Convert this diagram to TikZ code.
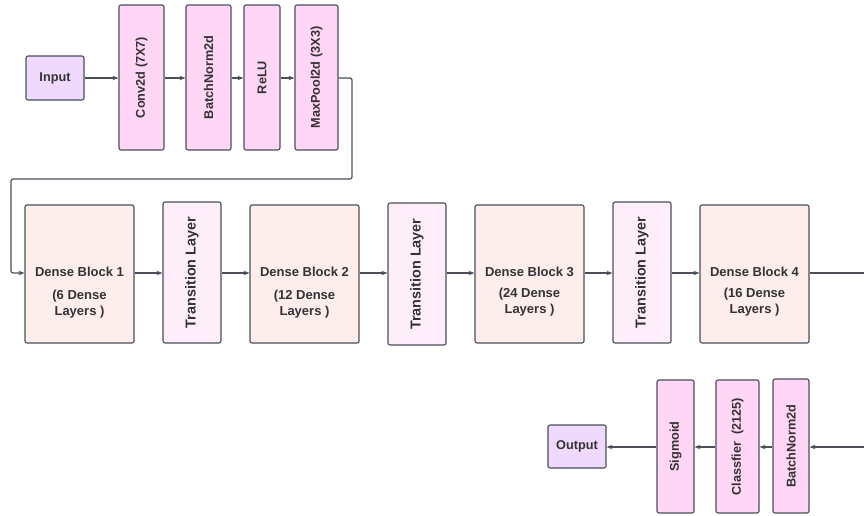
\documentclass[tikz,border=0pt]{standalone}
\usepackage{fontspec}
\setmainfont{Liberation Sans}
\usetikzlibrary{arrows.meta,calc}
\definecolor{edge}{HTML}{4A4F5A}
\definecolor{pinkbox}{HTML}{FFD6F5}
\definecolor{dbfill}{HTML}{FDEEEC}
\definecolor{tlfill}{HTML}{FDEEF9}
\definecolor{iofill}{HTML}{EFD9FC}
\definecolor{txt}{HTML}{333333}
\tikzset{
  x=1pt, y=-1pt,
  box/.style={draw=edge, line width=1.1pt, rounded corners=2pt, inner sep=0pt, text=txt, font=\bfseries\fontsize{12.7}{14}\selectfont},
  vbox/.style={box, fill=pinkbox},
  io/.style={box, fill=iofill, font=\bfseries\fontsize{12.7}{14}\selectfont},
  db/.style={box, fill=dbfill, minimum width=109pt, minimum height=138pt},
  tl/.style={box, fill=tlfill, minimum width=58pt, font=\bfseries\fontsize{14.4}{16}\selectfont},
  dbt/.style={inner sep=0pt, text=txt, align=center, font=\bfseries\fontsize{13}{16}\selectfont},
  conn/.style={draw=edge, line width=1.2pt, -{Stealth[length=6pt,width=4.5pt]}},
  plain/.style={draw=edge, line width=1.2pt},
}
\newcommand{\rt}[1]{\rotatebox{90}{#1}}
\begin{document}
\begin{tikzpicture}
\useasboundingbox (0,0) rectangle (864,515);
% top row
\node[io, minimum width=58pt, minimum height=44pt] (in) at (55,78) {Input};
\node[vbox, minimum width=45pt, minimum height=145pt] (conv) at (141.5,77.5) {\rt{Conv2d (7X7)}};
\node[vbox, minimum width=45pt, minimum height=145pt] (bn1) at (208.5,77.5) {\rt{BatchNorm2d}};
\node[vbox, minimum width=36pt, minimum height=145pt] (relu) at (262,77.5) {\rt{ReLU}};
\node[vbox, minimum width=43pt, minimum height=145pt] (mp) at (316.5,77.5) {\rt{MaxPool2d (3X3)}};
% middle row
\node[db] (db1) at (79.5,274) {};
\node[dbt] at ($(db1.center)+(0,-2)$) {Dense Block 1};
\node[dbt] at ($(db1.center)+(0,30)$) {(6 Dense\\Layers )};
\node[tl, minimum height=141pt] (tl1) at (192,272.5) {\rt{Transition Layer}};
\node[db] (db2) at (304.5,274) {};
\node[dbt] at ($(db2.center)+(0,-2)$) {Dense Block 2};
\node[dbt] at ($(db2.center)+(0,30)$) {(12 Dense\\Layers )};
\node[tl, minimum height=142pt] (tl2) at (417,274) {\rt{Transition Layer}};
\node[db] (db3) at (529.5,274) {};
\node[dbt] at ($(db3.center)+(0,-2)$) {Dense Block 3};
\node[dbt] at ($(db3.center)+(0,28)$) {(24 Dense\\Layers )};
\node[tl, minimum height=141pt] (tl3) at (642,272.5) {\rt{Transition Layer}};
\node[db] (db4) at (754.5,274) {};
\node[dbt] at ($(db4.center)+(0,-2)$) {Dense Block 4};
\node[dbt] at ($(db4.center)+(0,28)$) {(16 Dense\\Layers )};
% bottom row
\node[io, minimum width=58pt, minimum height=43pt] (out) at (577,446.5) {Output};
\node[vbox, minimum width=37pt, minimum height=133pt] (sig) at (675.5,446.5) {\rt{Sigmoid}};
\node[vbox, minimum width=43pt, minimum height=133pt] (cls) at (737.5,446.5) {\rt{Classfier\ \ (2125)}};
\node[vbox, minimum width=36pt, minimum height=134pt] (bn2) at (791,446) {\rt{BatchNorm2d}};
% connectors
\coordinate (r1) at (864,273);
\coordinate (r2) at (864,447);
\draw[conn] (in.east) -- (conv.west |- in.east);
\draw[conn] (conv.east |- 0,78) -- (bn1.west |- 0,78);
\draw[conn] (bn1.east |- 0,78) -- (relu.west |- 0,78);
\draw[conn] (relu.east |- 0,78) -- (mp.west |- 0,78);
\draw[conn, rounded corners=2pt] (mp.east |- 0,78) -- (352,78) -- (352,179) -- (11,179) -- (11,273) -- (db1.west |- 0,273);
\draw[conn] (db1.east |- 0,273) -- (tl1.west |- 0,273);
\draw[conn] (tl1.east |- 0,273) -- (db2.west |- 0,273);
\draw[conn] (db2.east |- 0,273) -- (tl2.west |- 0,273);
\draw[conn] (tl2.east |- 0,273) -- (db3.west |- 0,273);
\draw[conn] (db3.east |- 0,273) -- (tl3.west |- 0,273);
\draw[conn] (tl3.east |- 0,273) -- (db4.west |- 0,273);
\draw[plain] (db4.east |- r1) -- (r1);
\draw[conn] (r2) -- (bn2.east |- r2);
\draw[conn] (bn2.west |- r2) -- (cls.east |- r2);
\draw[conn] (cls.west |- r2) -- (sig.east |- r2);
\draw[conn] (sig.west |- r2) -- (out.east |- r2);
\end{tikzpicture}
\end{document}
